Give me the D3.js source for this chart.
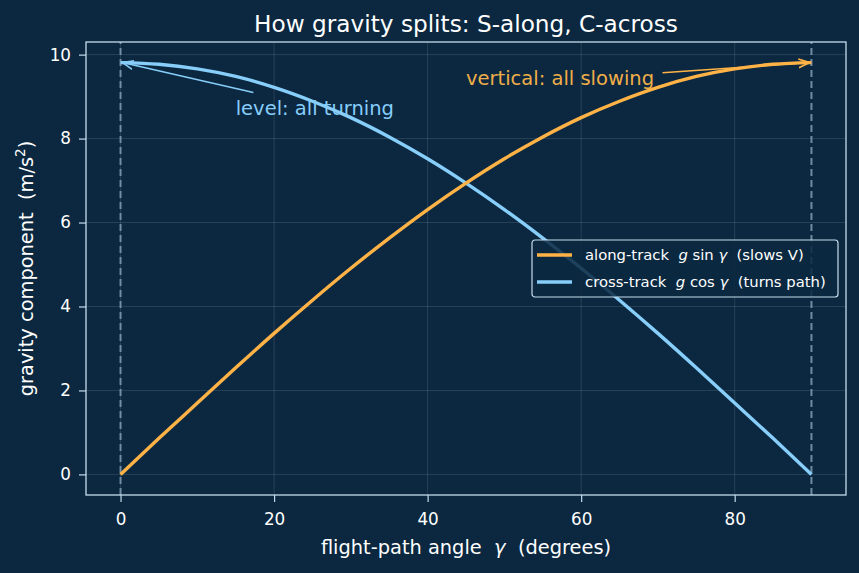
<!DOCTYPE html>
<html>
<head>
<meta charset="utf-8">
<script src="https://cdn.jsdelivr.net/npm/d3@7"></script>
<style>
  body { margin: 0; background: #0b2840; }
  svg { display: block; font-family: "DejaVu Sans", sans-serif; }
  text { white-space: pre; }
</style>
</head>
<body>
<div id="chart"></div>
<script>
// flight-path angle (deg) and the two gravity components (m/s^2)
var angles = [0, 5, 10, 15, 20, 25, 30, 35, 40, 45, 50, 55, 60, 65, 70, 75, 80, 85, 90];
var alongTrack = [0, 0.86, 1.70, 2.54, 3.36, 4.15, 4.91, 5.63, 6.31, 6.94, 7.52, 8.04, 8.50, 8.89, 9.22, 9.48, 9.66, 9.77, 9.81];
var crossTrack = [9.81, 9.77, 9.66, 9.48, 9.22, 8.89, 8.50, 8.04, 7.52, 6.94, 6.31, 5.63, 4.91, 4.15, 3.36, 2.54, 1.70, 0.86, 0];
var xTicks = [0, 20, 40, 60, 80];
var yTicks = [0, 2, 4, 6, 8, 10];
var guideAngles = [0, 90];

var width = 859, height = 573;
var margin = { left: 86, right: 13, top: 42, bottom: 78 };
var bg = "#0b2840", orange = "#ffb347", blue = "#87cefa", spine = "#c5dcec";

var svg = d3.select("#chart").append("svg")
  .attr("width", width).attr("height", height);

svg.append("rect").attr("width", width).attr("height", height).attr("fill", bg);

var x = d3.scaleLinear().domain([-4.5, 94.5])
  .range([margin.left, width - margin.right]);
var y = d3.scaleLinear().domain([-0.4905, 10.3005])
  .range([height - margin.bottom, margin.top]);

// grid
svg.append("g").selectAll("line").data(xTicks).enter().append("line")
  .attr("x1", function(d) { return x(d); }).attr("x2", function(d) { return x(d); })
  .attr("y1", y.range()[0]).attr("y2", y.range()[1])
  .attr("stroke", "#ffffff").attr("stroke-opacity", 0.15).attr("stroke-width", 0.8);
svg.append("g").selectAll("line").data(yTicks).enter().append("line")
  .attr("y1", function(d) { return y(d); }).attr("y2", function(d) { return y(d); })
  .attr("x1", x.range()[0]).attr("x2", x.range()[1])
  .attr("stroke", "#ffffff").attr("stroke-opacity", 0.15).attr("stroke-width", 0.8);

// dashed guides at 0 and 90 deg
svg.append("g").selectAll("line").data(guideAngles).enter().append("line")
  .attr("x1", function(d) { return x(d); }).attr("x2", function(d) { return x(d); })
  .attr("y1", y.range()[0]).attr("y2", y.range()[1])
  .attr("stroke", "#7f9cb4").attr("stroke-opacity", 0.85)
  .attr("stroke-width", 2).attr("stroke-dasharray", "7,4");

var line = d3.line()
  .x(function(d, i) { return x(angles[i]); })
  .y(function(d) { return y(d); })
  .curve(d3.curveMonotoneX);

svg.append("path").datum(crossTrack).attr("d", line)
  .attr("fill", "none").attr("stroke", blue).attr("stroke-width", 3.4);
svg.append("path").datum(alongTrack).attr("d", line)
  .attr("fill", "none").attr("stroke", orange).attr("stroke-width", 3.4);

// axes
var xAxis = svg.append("g")
  .attr("transform", "translate(0," + (height - margin.bottom) + ")")
  .call(d3.axisBottom(x).tickValues(xTicks).tickSize(7).tickPadding(11));
var yAxis = svg.append("g")
  .attr("transform", "translate(" + margin.left + ",0)")
  .call(d3.axisLeft(y).tickValues(yTicks).tickSize(7).tickPadding(8));
[xAxis, yAxis].forEach(function(a) {
  a.select(".domain").remove();
  a.selectAll(".tick line").attr("stroke", spine).attr("stroke-width", 1.2);
  a.selectAll(".tick text").attr("fill", "#ffffff").attr("font-size", 16.8)
    .attr("font-family", "DejaVu Sans");
});

svg.append("rect")
  .attr("x", x.range()[0]).attr("y", y.range()[1])
  .attr("width", x.range()[1] - x.range()[0])
  .attr("height", y.range()[0] - y.range()[1])
  .attr("fill", "none").attr("stroke", spine).attr("stroke-width", 1.3);

// titles
svg.append("text").attr("x", (x.range()[0] + x.range()[1]) / 2).attr("y", 32)
  .attr("text-anchor", "middle").attr("fill", "#ffffff").attr("font-size", 23.2)
  .text("How gravity splits: S-along, C-across");

var xl = svg.append("text").attr("x", (x.range()[0] + x.range()[1]) / 2).attr("y", 554)
  .attr("text-anchor", "middle").attr("fill", "#ffffff").attr("font-size", 19.4);
xl.append("tspan").text("flight-path angle  ");
xl.append("tspan").attr("font-style", "italic").text("γ");
xl.append("tspan").text("  (degrees)");

var yl = svg.append("text")
  .attr("transform", "translate(33," + ((y.range()[0] + y.range()[1]) / 2) + ") rotate(-90)")
  .attr("text-anchor", "middle").attr("fill", "#ffffff").attr("font-size", 19.4);
yl.append("tspan").text("gravity component  (m/s");
yl.append("tspan").attr("font-size", 13.5).attr("dy", -8).text("2");
yl.append("tspan").attr("dy", 8).text(")");

// annotations
var defs = svg.append("defs");
function arrowHead(id, color) {
  defs.append("marker").attr("id", id).attr("viewBox", "0 0 10 10")
    .attr("refX", 10).attr("refY", 5).attr("markerWidth", 11).attr("markerHeight", 11)
    .attr("markerUnits", "userSpaceOnUse").attr("orient", "auto")
    .append("path").attr("d", "M0,1 L10,5 L0,9").attr("fill", "none")
    .attr("stroke", color).attr("stroke-width", 1.5);
}
arrowHead("ab", blue);
arrowHead("ao", orange);

svg.append("line")
  .attr("x1", x(17.3)).attr("y1", y(9.1))
  .attr("x2", x(0.25)).attr("y2", y(9.81))
  .attr("stroke", blue).attr("stroke-width", 1.5).attr("marker-end", "url(#ab)");
svg.append("text").attr("x", x(15)).attr("y", y(8.6) + 2)
  .attr("fill", blue).attr("font-size", 19.5).text("level: all turning");

svg.append("line")
  .attr("x1", x(70.6)).attr("y1", y(9.57))
  .attr("x2", x(89.75)).attr("y2", y(9.81))
  .attr("stroke", orange).attr("stroke-width", 1.5).attr("marker-end", "url(#ao)");
svg.append("text").attr("x", x(45)).attr("y", y(9.3) + 1)
  .attr("fill", "#f0ae48").attr("font-size", 19.5).text("vertical: all slowing");

// legend
var legend = svg.append("g").attr("transform", "translate(532,240)");
legend.append("rect").attr("width", 306).attr("height", 57).attr("rx", 3)
  .attr("fill", bg).attr("fill-opacity", 0.85)
  .attr("stroke", spine).attr("stroke-width", 1.2);
var legendItems = [
  { color: orange, pre: "along-track  ", it: "g", mid: " sin ", it2: "γ", post: "  (slows V)" },
  { color: blue, pre: "cross-track  ", it: "g", mid: " cos ", it2: "γ", post: "  (turns path)" }
];
legendItems.forEach(function(d, i) {
  var yy = 15 + i * 27;
  legend.append("line").attr("x1", 5).attr("x2", 40).attr("y1", yy).attr("y2", yy)
    .attr("stroke", d.color).attr("stroke-width", 3.4);
  var t = legend.append("text").attr("x", 53).attr("y", yy + 5)
    .attr("fill", "#ffffff").attr("font-size", 14.8);
  t.append("tspan").text(d.pre);
  t.append("tspan").attr("font-style", "italic").text(d.it);
  t.append("tspan").text(d.mid);
  t.append("tspan").attr("font-style", "italic").text(d.it2);
  t.append("tspan").text(d.post);
});
</script>
</body>
</html>
